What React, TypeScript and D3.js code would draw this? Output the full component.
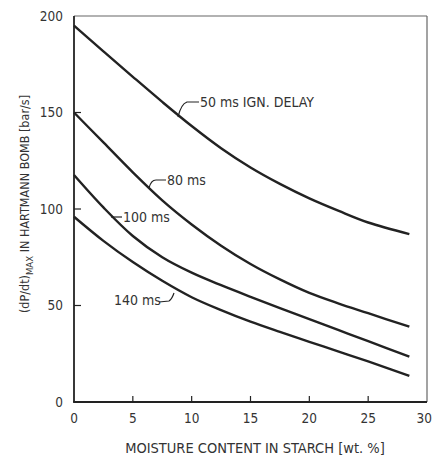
import React from "react";
import * as d3 from "d3";

const xValues = [0, 2.5, 5, 7.5, 10, 12.5, 15, 17.5, 20, 22.5, 25, 28.5];
const series50 = [195, 181.7, 168.5, 155.5, 143, 131.5, 121.5, 113, 105.5, 99, 93, 87];
const series80 = [150, 134.5, 119, 104.5, 92, 81, 71.5, 63.5, 56.5, 51, 46, 39];
const series100 = [117.6, 100.8, 86, 75, 67, 60.5, 54.5, 48.7, 43, 37.2, 31.5, 23.5];
const series140 = [96, 83.5, 72.5, 62.8, 54.3, 47.6, 41.6, 36.3, 31.2, 26.1, 21, 13.5];
const xTicks = [0, 5, 10, 15, 20, 25, 30];
const yTicks = [0, 50, 100, 150, 200];
const xTitle = "MOISTURE CONTENT IN STARCH [wt. %]";

const W = 433;
const H = 459;
const FONT = "'DejaVu Sans Condensed', 'Liberation Sans Narrow', 'DejaVu Sans', sans-serif";
const INK = "#222";
const TXT = "#333";

export default function App() {
  const x = d3.scaleLinear().domain([0, 30]).range([74, 427]);
  const y = d3.scaleLinear().domain([0, 200]).range([402, 16]);
  const line = d3
    .line<number>()
    .x((_, i) => x(xValues[i]))
    .y((d) => y(d))
    .curve(d3.curveCatmullRom.alpha(0.5));

  const all = [series50, series80, series100, series140];

  return (
    <svg
      width={W}
      height={H}
      style={{ position: "absolute", left: 0, top: 0, background: "#fff" }}
      fontFamily={FONT}
    >
      {/* frame */}
      <line x1={x(0)} y1={y(200)} x2={x(30)} y2={y(200)} stroke="#666" strokeWidth={1.2} />
      <line x1={x(30)} y1={y(200)} x2={x(30)} y2={y(0)} stroke="#666" strokeWidth={1.2} />
      <line x1={x(0)} y1={y(200)} x2={x(0)} y2={y(0)} stroke={INK} strokeWidth={1.8} />
      <line x1={x(0) - 0.9} y1={y(0)} x2={x(30)} y2={y(0)} stroke={INK} strokeWidth={1.8} />

      {/* y ticks */}
      {yTicks.map((t) => (
        <g key={"y" + t}>
          {t > 0 && t < 200 && (
            <line x1={x(0)} x2={x(0) + 7} y1={y(t)} y2={y(t)} stroke={INK} strokeWidth={1.2} />
          )}
          <text x={63} y={y(t)} dy="0.35em" textAnchor="end" fontSize={13.5} fill={TXT}>
            {t}
          </text>
        </g>
      ))}

      {/* x ticks */}
      {xTicks.map((t) => (
        <g key={"x" + t}>
          {t > 0 && t < 30 && (
            <line x1={x(t)} x2={x(t)} y1={y(0)} y2={y(0) - 6} stroke={INK} strokeWidth={1.2} />
          )}
          <text
            x={t === 30 ? W - 1 : x(t)}
            y={418}
            dy="0.35em"
            textAnchor={t === 30 ? "end" : "middle"}
            fontSize={13.5}
            fill={TXT}
          >
            {t}
          </text>
        </g>
      ))}

      {/* curves */}
      {all.map((s, i) => (
        <path key={i} d={line(s) || ""} fill="none" stroke={INK} strokeWidth={2.4} />
      ))}

      {/* labels with leaders */}
      <path d="M178,117 Q181,104 187,102 L199,102" fill="none" stroke={INK} strokeWidth={1.2} />
      <text x={200} y={102} dy="0.35em" fontSize={14} fill={TXT}>50 ms IGN. DELAY</text>

      <path d="M149,188 Q151,180 156,180 L166,180" fill="none" stroke={INK} strokeWidth={1.2} />
      <text x={167} y={180} dy="0.35em" fontSize={14} fill={TXT}>80 ms</text>

      <path d="M111,217 L122,217" fill="none" stroke={INK} strokeWidth={1.2} />
      <text x={123} y={217} dy="0.35em" fontSize={14} fill={TXT}>100 ms</text>

      <path d="M159,302 L169,301 Q172,299 174,293" fill="none" stroke={INK} strokeWidth={1.2} />
      <text x={114} y={300} dy="0.35em" fontSize={14} fill={TXT}>140 ms</text>

      {/* axis titles */}
      <text x={255} y={448} dy="0.35em" textAnchor="middle" fontSize={14.5} fill={TXT}>
        {xTitle}
      </text>
      <text
        transform="translate(25,204) rotate(-90)"
        textAnchor="middle"
        dy="0.35em"
        fontSize={12.5}
        fill={TXT}
      >
        (dP/dt)<tspan fontSize={9.5} dy="4">MAX</tspan>
        <tspan dy="-4">{"  IN HARTMANN BOMB  [bar/s]"}</tspan>
      </text>
    </svg>
  );
}
